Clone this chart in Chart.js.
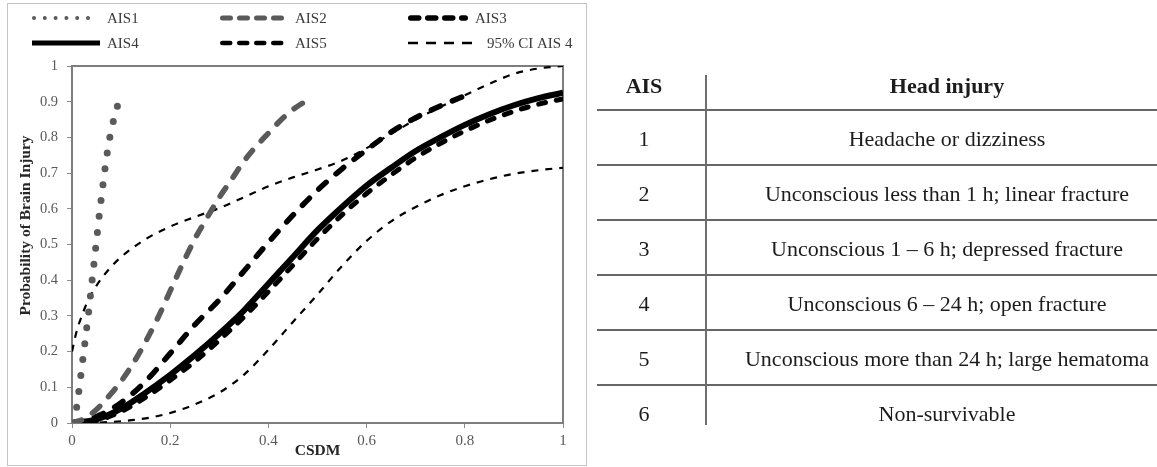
<!DOCTYPE html>
<html>
<head>
<meta charset="utf-8">
<script src="https://cdn.jsdelivr.net/npm/chart.js@4.4.0/dist/chart.umd.min.js"></script>
<style>
  html, body { margin: 0; padding: 0; background: #fff; }
  body { width: 1157px; height: 467px; position: relative; overflow: hidden;
         font-family: "Liberation Serif", "Times New Roman", serif; }
  #frame { position: absolute; left: 7px; top: 3px; width: 578px; height: 461px;
           border: 1px solid #c4c4c4; }
  #chartBox { position: absolute; left: 0; top: 0; width: 590px; height: 467px; }
  #table { position: absolute; left: 0; top: 0; width: 1157px; height: 467px; }
  .cell { position: absolute; transform: translate(-50%, -50%); white-space: nowrap;
          line-height: 1; font-size: 22px; color: #1c1c1c; }
  .head { font-weight: bold; }
  .hline { position: absolute; left: 597px; width: 560px; height: 2px; background: #666; }
  .vline { position: absolute; left: 705px; top: 75px; width: 2px; height: 350px; background: #6e6e6e; }
</style>
</head>
<body>
<div id="frame"></div>
<div id="chartBox"><canvas id="chart" width="590" height="467"></canvas></div>
<div id="table"></div>
<script>
// Axis ticks
const csdmTickValues = [0, 0.2, 0.4, 0.6, 0.8, 1];
const csdmTickLabels = ['0', '0.2', '0.4', '0.6', '0.8', '1'];
const probTickValues = [0, 0.1, 0.2, 0.3, 0.4, 0.5, 0.6, 0.7, 0.8, 0.9, 1];
const probTickLabels = ['0', '0.1', '0.2', '0.3', '0.4', '0.5', '0.6', '0.7', '0.8', '0.9', '1'];

const seriesNames = ['AIS1', 'AIS2', 'AIS3', 'AIS4', 'AIS5', '95% CI AIS 4'];

// Injury risk curves: CSDM (x) against probability of brain injury (y)
const ais1Csdm = [0.005, 0.010, 0.015, 0.0195, 0.024, 0.0285, 0.033, 0.037, 0.041, 0.045, 0.049, 0.053, 0.057, 0.0615, 0.066, 0.071, 0.077, 0.085, 0.095, 0.097];
const ais1Prob = [0, 0.05, 0.10, 0.15, 0.20, 0.25, 0.30, 0.35, 0.40, 0.45, 0.50, 0.55, 0.60, 0.65, 0.70, 0.75, 0.80, 0.85, 0.90, 0.91];

const ais2Csdm = [0, 0.025, 0.05, 0.075, 0.1, 0.125, 0.15, 0.175, 0.2, 0.225, 0.25, 0.275, 0.3, 0.325, 0.35, 0.375, 0.4, 0.425, 0.45, 0.48];
const ais2Prob = [0, 0.012, 0.038, 0.075, 0.117, 0.168, 0.228, 0.295, 0.37, 0.445, 0.515, 0.575, 0.632, 0.682, 0.733, 0.775, 0.812, 0.848, 0.878, 0.905];

const ais3Csdm = [0, 0.05, 0.1, 0.15, 0.2, 0.25, 0.3, 0.35, 0.4, 0.45, 0.5, 0.55, 0.6, 0.65, 0.7, 0.75, 0.81];
const ais3Prob = [0, 0.018, 0.057, 0.117, 0.195, 0.275, 0.345, 0.425, 0.506, 0.582, 0.652, 0.712, 0.765, 0.815, 0.855, 0.888, 0.922];

const gridCsdm = [0, 0.05, 0.1, 0.15, 0.2, 0.25, 0.3, 0.35, 0.4, 0.45, 0.5, 0.55, 0.6, 0.65, 0.7, 0.75, 0.8, 0.85, 0.9, 0.95, 1];
const ais4Prob = [0, 0.01, 0.04, 0.085, 0.135, 0.19, 0.25, 0.315, 0.39, 0.465, 0.54, 0.605, 0.665, 0.715, 0.762, 0.8, 0.835, 0.865, 0.89, 0.91, 0.925];
const ais5Prob = [0, 0.007, 0.032, 0.072, 0.12, 0.172, 0.232, 0.297, 0.368, 0.442, 0.516, 0.583, 0.643, 0.695, 0.743, 0.783, 0.818, 0.848, 0.873, 0.893, 0.908];
const ciLowerProb = [0, 0.001, 0.005, 0.013, 0.028, 0.052, 0.085, 0.135, 0.205, 0.283, 0.36, 0.44, 0.51, 0.565, 0.605, 0.638, 0.663, 0.683, 0.698, 0.708, 0.715];

const ciUpperCsdm = [0, 0.01, 0.02, 0.03, 0.05, 0.075, 0.1, 0.15, 0.2, 0.25, 0.3, 0.35, 0.4, 0.45, 0.5, 0.55, 0.6, 0.65, 0.7, 0.75, 0.8, 0.85, 0.9, 0.95, 1];
const ciUpperProb = [0.2, 0.26, 0.3, 0.335, 0.385, 0.43, 0.465, 0.515, 0.55, 0.577, 0.602, 0.632, 0.663, 0.688, 0.71, 0.735, 0.77, 0.81, 0.85, 0.885, 0.918, 0.95, 0.978, 0.993, 1.0];

// Table of AIS head injury descriptions
const aisLevels = ['1', '2', '3', '4', '5', '6'];
const headInjury = [
  'Headache or dizziness',
  'Unconscious less than 1 h; linear fracture',
  'Unconscious 1 \u2013 6 h; depressed fracture',
  'Unconscious 6 \u2013 24 h; open fracture',
  'Unconscious more than 24 h; large hematoma',
  'Non-survivable'
];
const tableHeader = ['AIS', 'Head injury'];

const pairs = (xs, ys) => xs.map((x, i) => ({ x: x, y: ys[i] }));

const GREY = '#5a5a5a';
const common = { pointRadius: 0, pointHoverRadius: 0, fill: false, cubicInterpolationMode: 'monotone' };

const datasets = [
  Object.assign({ label: seriesNames[0], data: pairs(ais1Csdm, ais1Prob), borderColor: GREY,
    borderWidth: 7, borderDash: [0, 16], borderCapStyle: 'round', order: 1 }, common),
  Object.assign({ label: seriesNames[1], data: pairs(ais2Csdm, ais2Prob), borderColor: GREY,
    borderWidth: 5.5, borderDash: [10, 13], borderCapStyle: 'round', order: 2 }, common),
  Object.assign({ label: seriesNames[2], data: pairs(ais3Csdm, ais3Prob), borderColor: '#000',
    borderWidth: 5.5, borderDash: [10, 13], borderCapStyle: 'round', order: 3 }, common),
  Object.assign({ label: seriesNames[3], data: pairs(gridCsdm, ais4Prob), borderColor: '#000',
    borderWidth: 6, order: 5 }, common),
  Object.assign({ label: seriesNames[4], data: pairs(gridCsdm, ais5Prob), borderColor: '#000',
    borderWidth: 5, borderDash: [7, 11], borderCapStyle: 'round', order: 4 }, common),
  Object.assign({ label: seriesNames[5], data: pairs(gridCsdm, ciLowerProb), borderColor: '#000',
    borderWidth: 2.2, borderDash: [7, 7], order: 6 }, common),
  Object.assign({ label: seriesNames[5], data: pairs(ciUpperCsdm, ciUpperProb), borderColor: '#000',
    borderWidth: 2.2, borderDash: [7, 7], order: 6 }, common)
];

// Legend samples laid out on a 3 x 2 grid above the plot
const legendItems = [
  { name: seriesNames[0], col: 0, row: 0, color: GREY,   width: 4,   dash: [0, 10.8], cap: 'round', len: 65 },
  { name: seriesNames[1], col: 1, row: 0, color: GREY,   width: 5,   dash: [8, 9],    cap: 'round', len: 68 },
  { name: seriesNames[2], col: 2, row: 0, color: '#000', width: 5.5, dash: [8, 9],    cap: 'round', len: 60 },
  { name: seriesNames[3], col: 0, row: 1, color: '#000', width: 5,   dash: [],        cap: 'butt',  len: 68 },
  { name: seriesNames[4], col: 1, row: 1, color: '#000', width: 4.5, dash: [8, 9],    cap: 'round', len: 68 },
  { name: seriesNames[5], col: 2, row: 1, color: '#000', width: 2.5, dash: [10, 8],   cap: 'butt',  len: 64, textShift: 12 }
];
const legendColX = [32, 220, 408];
const legendTextX = [107, 295, 475];
const legendRowY = [18, 43];

const FONT = "'Liberation Serif', 'Times New Roman', serif";

const decorations = {
  id: 'decorations',
  beforeDatasetsDraw(chart) {
    const { ctx, chartArea: a } = chart;
    ctx.save();
    ctx.strokeStyle = '#7e7e7e';
    ctx.lineWidth = 2;
    ctx.strokeRect(a.left, a.top, a.right - a.left, a.bottom - a.top);
    ctx.restore();
  },
  afterDraw(chart) {
    const { ctx, chartArea: a } = chart;
    ctx.save();
    legendItems.forEach(it => {
      const y = legendRowY[it.row];
      const x0 = legendColX[it.col];
      const inset = it.cap === 'round' ? it.width / 2 : 0;
      ctx.beginPath();
      ctx.setLineDash(it.dash);
      ctx.lineCap = it.cap;
      ctx.lineWidth = it.width;
      ctx.strokeStyle = it.color;
      ctx.moveTo(x0 + inset, y);
      ctx.lineTo(x0 + it.len - inset, y);
      ctx.stroke();
      ctx.setLineDash([]);
      ctx.fillStyle = '#3a3a3a';
      ctx.font = '15px ' + FONT;
      ctx.textAlign = 'left';
      ctx.textBaseline = 'middle';
      ctx.fillText(it.name, legendTextX[it.col] + (it.textShift || 0), y + 1);
    });
    // vertical axis title
    ctx.translate(26, (a.top + a.bottom) / 2 - 19);
    ctx.rotate(-Math.PI / 2);
    ctx.font = 'bold 15.5px ' + FONT;
    ctx.fillStyle = '#262626';
    ctx.textAlign = 'center';
    ctx.textBaseline = 'middle';
    ctx.fillText('Probability of Brain Injury', 0, 0);
    ctx.restore();
  }
};

new Chart(document.getElementById('chart'), {
  type: 'line',
  data: { datasets: datasets },
  options: {
    responsive: false,
    animation: false,
    devicePixelRatio: 1,
    layout: { padding: { top: 66, right: 27, bottom: 0, left: 0 } },
    plugins: { legend: { display: false }, tooltip: { enabled: false } },
    scales: {
      x: {
        type: 'linear', min: 0, max: 1,
        afterBuildTicks: s => { s.ticks = csdmTickValues.map(v => ({ value: v })); },
        afterFit: s => { s.height = 44; },
        grid: { drawOnChartArea: false, drawTicks: true, tickLength: 5, color: '#8a8a8a', lineWidth: 1 },
        border: { display: false },
        ticks: { color: '#595959', font: { family: FONT, size: 15 }, padding: 4, maxRotation: 0, autoSkip: false,
                 callback: (v, i) => csdmTickLabels[i] },
        title: { display: true, text: 'CSDM', color: '#262626', font: { family: FONT, size: 15.5, weight: 'bold' },
                 padding: { top: 0, bottom: 7 } }
      },
      y: {
        type: 'linear', min: 0, max: 1,
        afterBuildTicks: s => { s.ticks = probTickValues.map(v => ({ value: v })); },
        afterFit: s => { s.width = 72; },
        grid: { drawOnChartArea: false, drawTicks: true, tickLength: 5, color: '#8a8a8a', lineWidth: 1 },
        border: { display: false },
        ticks: { color: '#595959', font: { family: FONT, size: 14.5 }, padding: 9, autoSkip: false,
                 callback: (v, i) => probTickLabels[i] },
        title: { display: false }
      }
    }
  },
  plugins: [decorations]
});

// Table on the right
(function buildTable() {
  const t = document.getElementById('table');
  const colX = [644, 947];
  const headerY = 86;
  const rowY0 = 139, rowStep = 55;
  const add = (cls, text, x, y) => {
    const d = document.createElement('div');
    d.className = cls;
    d.textContent = text;
    d.style.left = x + 'px';
    d.style.top = y + 'px';
    t.appendChild(d);
  };
  add('cell head', tableHeader[0], colX[0], headerY);
  add('cell head', tableHeader[1], colX[1], headerY);
  aisLevels.forEach((lvl, i) => {
    const y = rowY0 + rowStep * i;
    add('cell', lvl, colX[0], y);
    add('cell', headInjury[i], colX[1], y);
    const l = document.createElement('div');
    l.className = 'hline';
    l.style.top = (110 + rowStep * i - 1) + 'px';
    t.appendChild(l);
  });
  const v = document.createElement('div');
  v.className = 'vline';
  t.appendChild(v);
})();
</script>
</body>
</html>
